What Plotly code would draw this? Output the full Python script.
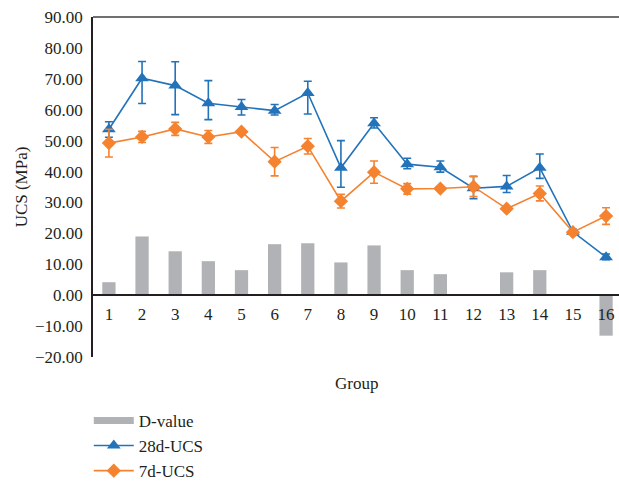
import plotly.graph_objects as go

groups = list(range(1, 17))
tick_labels = [str(g) for g in groups]

d_value = [4.2, 19.0, 14.2, 11.0, 8.1, 16.5, 16.8, 10.6, 16.1, 8.1, 6.8, 0.3, 7.4, 8.1, 0.3, -13.1]

ucs28 = [53.7, 70.2, 67.8, 62.1, 60.9, 59.7, 65.4, 41.2, 55.6, 42.4, 41.4, 34.6, 35.2, 41.2, 20.5, 12.3]
ucs28_err_plus = [2.4, 5.4, 7.7, 7.3, 2.4, 2.0, 3.8, 8.8, 1.8, 1.9, 2.0, 3.9, 3.5, 4.5, 0.8, 1.0]
ucs28_err_minus = [2.6, 8.2, 9.4, 5.3, 2.6, 1.4, 6.8, 6.3, 1.5, 1.5, 1.6, 3.4, 2.0, 3.4, 0.8, 0.8]

ucs7 = [49.2, 51.2, 53.8, 51.2, 52.9, 43.2, 48.2, 30.4, 39.8, 34.4, 34.5, 35.1, 28.0, 32.9, 20.4, 25.6]
ucs7_err = [4.5, 1.8, 2.1, 2.1, 0.6, 4.6, 2.5, 2.2, 3.6, 1.7, 0.5, 3.2, 0.5, 2.4, 0.6, 2.7]

BLUE = "#2373BA"
ORANGE = "#F5822F"
GRAY = "#B1B2B5"
FONT = "Liberation Serif"
FS = 17

fig = go.Figure()

fig.add_trace(go.Bar(
    x=groups, y=d_value, name="D-value", legendgroup="d",
    marker=dict(color=GRAY, line=dict(width=0)),
    width=0.4, showlegend=False,
))
# legend swatch for the bar series (wide gray rectangle as in the reference)
fig.add_trace(go.Scatter(
    x=[None], y=[None], name="D-value", legendgroup="d", mode="lines",
    line=dict(color=GRAY, width=7), showlegend=True, hoverinfo="skip",
))

fig.add_trace(go.Scatter(
    x=groups, y=ucs28, name="28d-UCS", mode="lines+markers",
    line=dict(color=BLUE, width=1.6),
    marker=dict(symbol="triangle-up", size=12, color=BLUE),
    error_y=dict(type="data", symmetric=False, array=ucs28_err_plus,
                 arrayminus=ucs28_err_minus, color=BLUE, thickness=1.6, width=4),
))

fig.add_trace(go.Scatter(
    x=groups, y=ucs7, name="7d-UCS", mode="lines+markers",
    line=dict(color=ORANGE, width=1.6),
    marker=dict(symbol="diamond", size=11, color=ORANGE),
    error_y=dict(type="data", array=ucs7_err, color=ORANGE, thickness=1.6, width=4),
))

y_min, y_max = -20, 90
zero_pos = (0 - y_min) / (y_max - y_min)

fig.update_layout(
    width=619, height=482,
    margin=dict(l=93, r=0, t=17, b=125, autoexpand=False),
    plot_bgcolor="white", paper_bgcolor="white",
    font=dict(family=FONT, size=FS, color="#231F20"),
    showlegend=True,
    legend=dict(x=-0.008, xanchor="left", y=-0.135, yanchor="top",
                orientation="v", traceorder="normal",
                font=dict(family=FONT, size=FS, color="#231F20"),
                itemwidth=40, tracegroupgap=0),
    bargap=0.6,
    xaxis=dict(
        range=[0.52, 16.39], automargin=False,
        tickmode="array", tickvals=groups, ticktext=tick_labels,
        showgrid=False, zeroline=False,
        showline=True, linecolor="#231F20", linewidth=1.5,
        anchor="free", position=zero_pos,
        ticks="", ticklabelstandoff=4,
        tickfont=dict(family=FONT, size=FS),
    ),
    yaxis=dict(
        range=[y_min, y_max], domain=[0, 1], automargin=False,
        dtick=10, tick0=0, tickformat=".2f",
        showgrid=False, zeroline=False,
        showline=True, linecolor="#231F20", linewidth=1.5,
        ticks="", ticklabelstandoff=5,
        tickfont=dict(family=FONT, size=FS),
        title=dict(text="UCS (MPa)", font=dict(family=FONT, size=FS), standoff=3),
    ),
    shapes=[dict(type="line", xref="paper", yref="paper", x0=0, x1=1, y0=1, y1=1,
                 line=dict(color="#404040", width=1.5))],
    annotations=[dict(text="Group", xref="paper", yref="paper", x=0.5, y=-0.045,
                      xanchor="center", yanchor="top", showarrow=False,
                      font=dict(family=FONT, size=FS))],
)

fig.write_html("out.html", config={"displayModeBar": False},
               post_script="document.body.style.margin='0';")
